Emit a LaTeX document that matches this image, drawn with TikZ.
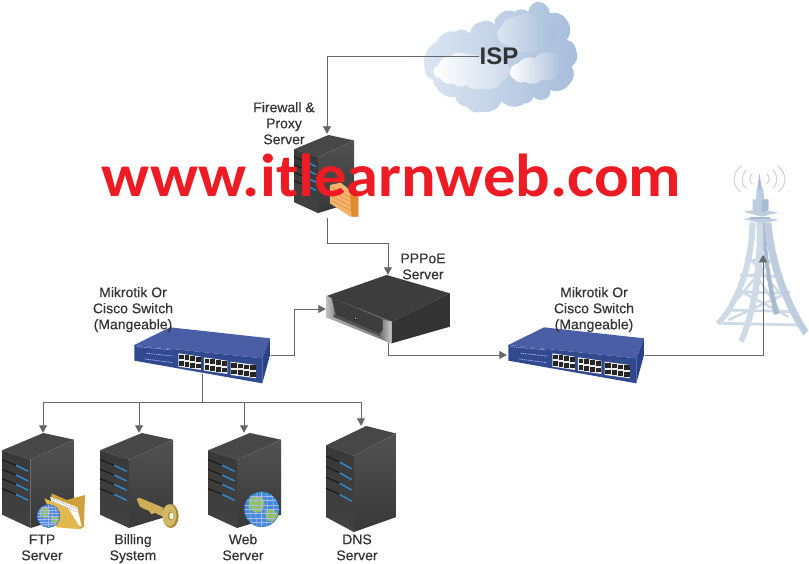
\documentclass[tikz,border=0pt]{standalone}
\usepackage{fontspec}
\setmainfont{Liberation Sans}
\newfontfamily\markfont{Carlito}
\newfontfamily\lblfont[FakeBold=0.25]{Liberation Sans}
\usetikzlibrary{arrows.meta}
\definecolor{linegray}{HTML}{666666}
\definecolor{labelgray}{HTML}{333333}
\definecolor{markred}{HTML}{ED1C24}
\tikzset{
  conn/.style={draw=linegray,line width=0.9pt},
  arr/.style={conn,-{Triangle[length=7.5pt,width=8pt]}},
  lbl/.style={text=labelgray,font=\lblfont\fontsize{14}{16}\selectfont,align=center,inner sep=0pt},
  anchorbox/.style={inner sep=0pt,minimum width=#1},
  anchorbox/.default=10pt,
}
\colorlet{HEADC}{black!72}
\colorlet{SIDEA}{black!78}
\colorlet{SIDEB}{black!74}
\colorlet{SIDEC}{black!68}
\colorlet{SIDED}{black!78}
\definecolor{BLUEL}{HTML}{2F86C8}
% server tower: x of left edge, y of peak, xscale, yscale
\newcommand{\srvbody}[4]{%
\begin{scope}[shift={(#1,#2)},xscale=#3,yscale=#4]
  \fill[HEADC] (0,52)--(124,0)--(216,20)--(86,80)--cycle;
  \shade[top color=SIDEA,bottom color=SIDEB] (0,52)--(86,80)--(86,285)--(0,245)--cycle;
  \shade[top color=SIDEC,bottom color=SIDED] (86,80)--(216,20)--(216,245)--(86,285)--cycle;
  \foreach \d in {0,29,57,87}{
    \draw[black!90,line width=1.1pt] (0,{80+\d})--(42,{97+\d});
    \draw[BLUEL,line width=1.5pt] (42,{97+\d})--(79,{115+\d});
  }
\end{scope}}
\newcommand{\globeicon}[3]{%
\begin{scope}
  \clip (#1,#2) circle[radius=#3];
  \fill[globeblue] (#1,#2) circle[radius=#3];
  \begin{scope}[shift={(#1,#2)},scale=#3]
    \fill[globegreen] (-0.7,-0.6) .. controls (-0.1,-0.95) and (0.3,-0.6) .. (0.1,-0.1) .. controls (-0.1,0.35) and (-0.45,0.25) .. (-0.75,-0.1) -- cycle;
    \fill[globegreen] (0.2,0.1) .. controls (0.6,-0.1) and (1,0.1) .. (0.9,0.5) .. controls (0.6,0.9) and (0.2,0.7) .. cycle;
    \foreach \k in {-0.75,-0.5,-0.25,0,0.25,0.5,0.75}{
      \draw[white!70!blue,line width=0.45pt] (-1,\k)--(1,\k);
      \draw[white!70!blue,line width=0.45pt] (\k,-1) .. controls ({\k*1.5},-0.3) and ({\k*1.5},0.3) .. (\k,1);
    }
  \end{scope}
\end{scope}
\draw[globeblue!70!black,line width=0.4pt] (#1,#2) circle[radius=#3];}
\newcommand{\switchicon}[1]{%
\begin{scope}[shift={(#1,230)},scale=0.3333]
  \fill[switchtop] (133,345)--(240,292)--(540,325)--(517,385)--cycle;
  \fill[switchfront] (133,345)--(517,385)--(517,460)--(133,392)--cycle;
  \fill[switchside] (517,385)--(540,325)--(540,375)--(517,460)--cycle;
  \draw[white!70!blue,line width=0.7pt,dash pattern=on 1pt off 0.8pt] (140,350)--(248,360);
  \draw[white!70!blue,line width=0.7pt,dash pattern=on 1.5pt off 0.8pt] (170,370)--(250,378);
  \draw[white!70!blue,line width=0.7pt,dash pattern=on 1.5pt off 0.8pt] (165,387)--(248,398);
  \foreach \x/\y/\w in {265/370/68,342/382/70,422/395/76}{
    \fill[black!8] (\x,\y)--({\x+\w},{\y+10})--({\x+\w},{\y+50})--(\x,{\y+40})--cycle;
    \foreach \i in {0,1,2,3}{
      \fill[black!85] ({\x+2+\i*\w/4},{\y+4+\i*2.5}) rectangle ++({\w/4-3},14);
      \fill[black!85] ({\x+2+\i*\w/4},{\y+24+\i*2.5}) rectangle ++({\w/4-3},14);
    }
  }
\end{scope}}
\definecolor{globeblue}{HTML}{3F8FD6}
\definecolor{globegreen}{HTML}{8CC65A}
\definecolor{switchtop}{HTML}{4A5EA6}
\definecolor{switchfront}{HTML}{31498F}
\definecolor{switchside}{HTML}{2A4288}
\definecolor{towera}{HTML}{BFCEDF}
\definecolor{towerb}{HTML}{CFDAE7}
\definecolor{towerc}{HTML}{A9BBD1}
\definecolor{cloudl}{HTML}{DCE6F2}
\definecolor{cloudd}{HTML}{A6BCDA}
\definecolor{goldd}{HTML}{A88A38}
\definecolor{goldm}{HTML}{CDAE58}
\definecolor{goldl}{HTML}{E6D08A}
\definecolor{fold}{HTML}{E3B94F}
\definecolor{foldd}{HTML}{CFA03C}
\definecolor{brick}{HTML}{F4B46E}
\definecolor{brickd}{HTML}{E08A30}
\begin{document}
\begin{tikzpicture}[x=1pt,y=-1pt]
\useasboundingbox (0,0) rectangle (809,564);
\fill[white] (0,0) rectangle (809,564);

% ---------- cloud
\begin{scope}[shift={(410,0)},scale=0.3333,bend left=38]
  \shade[left color=cloudl,right color=cloudd]
   (45,210) to (80,125) to (135,95) to (180,100) to (215,65) to (255,75) to (262,50) to (315,35)
   to (355,35) to (385,5) to (420,40) to (470,60) to (470,120) to (498,150) to (485,200)
   to (480,250) to (420,270) to (410,295) to (370,290) to (345,310) to (275,305) to (215,335)
   to (170,320) to (135,290) to (80,262) to (70,240) to (45,210) -- cycle;
  \shade[left color=white,right color=cloudl!70!cloudd]
   (70,215) to (85,195) to (120,170) to (175,165) to (215,180) to (270,180) to (300,205)
   to (280,240) to (215,265) to (170,255) to (130,250) to (90,235) to (70,215) -- cycle;
  \shade[shading angle=110,left color=cloudl,right color=cloudd]
   (262,105) to (275,80) to (320,50) to (385,55) to (430,85) to (430,125) to (395,145)
   to (345,155) to (290,135) to (262,105) -- cycle;
  \shade[shading angle=105,left color=white,right color=cloudd]
   (300,215) to (325,190) to (375,175) to (425,160) to (460,180) to (450,215) to (395,240)
   to (345,245) to (310,235) to (300,215) -- cycle;
\end{scope}

% ---------- server towers
\srvbody{294}{135}{0.278}{0.274}
\srvbody{2}{433}{0.3333}{0.3333}
\srvbody{100}{433}{0.338}{0.3333}
\srvbody{208}{433}{0.338}{0.3333}
\srvbody{326}{426}{0.324}{0.372}

% brick wall on firewall
\begin{scope}[shift={(250,0)},scale=0.3333]
  \fill[brick] (240,555)--(272,548)--(325,590)--(325,650)--(300,650)--(240,610)--cycle;
  \fill[brickd] (300,585)--(325,590)--(325,650)--(305,650)--cycle;
  \foreach \d in {0,13,26,39}{
    \draw[brickd,line width=0.5pt] (240,{560+\d})--(303,{593+\d});
  }
\end{scope}

% folder + small globe (FTP)
\begin{scope}[shift={(0,430)},scale=0.3333]
  \fill[foldd] (155,190)--(200,210)--(255,195)--(252,290)--(240,297)--(150,240)--cycle;
  \fill[white] (150,200)--(232,232)--(245,290)--(170,260)--cycle;
  \draw[black!40,line width=0.3pt] (155,205)--(234,238) (155,212)--(237,248);
  \fill[fold] (133,205)--(205,235)--(243,298)--(170,292)--cycle;
\end{scope}
\globeicon{48.5}{516}{11.5}

% key (billing)
\begin{scope}[shift={(0,410)},scale=0.3333]
  \fill[goldm] (410,268)--(418,263)--(490,293)--(490,320)--(475,314)--(465,308)--(455,313)--(445,301)--(435,298)--(420,290)--cycle;
  \fill[goldd] (512,318) ellipse[x radius=24,y radius=36];
  \fill[goldm!70!goldl] (508,316) ellipse[x radius=21,y radius=33];
  \fill[goldd] (512,318) ellipse[x radius=8,y radius=13];
  \fill[white] (514,318) ellipse[x radius=6,y radius=10];
\end{scope}
\globeicon{261.7}{509.3}{17.5}

% ---------- PPPoE box
\begin{scope}[shift={(90,230)},scale=0.3333]
  \fill[black!76] (710,198)--(890,135)--(1080,190)--(905,275)--cycle;
  \fill[black!80] (905,275)--(1080,190)--(1080,290)--(905,340)--cycle;
  \fill[black!60] (710,198)--(905,275)--(905,340)--(710,262)--cycle;
  \shade[left color=black!25,right color=black!45] (710,198)--(725,205)--(735,250)--(725,258)--(710,262)--cycle;
  \shade[top color=black!30,bottom color=black!55] (710,262)--(725,255)--(880,320)--(905,340)--cycle;
  \shade[left color=black!55,right color=black!20] (875,268)--(905,275)--(905,340)--(870,322)--(880,300)--cycle;
  \fill[black!76] (725,203)--(878,268)--(878,298)--(868,310)--(738,255)--cycle;
  \fill[black!68] (738,255)--(868,310)--(872,320)--(728,260)--cycle;
  \fill[black] (795,266) circle[radius=4];
  \fill[white] (796,265) circle[radius=2];
\end{scope}

% ---------- switches
\switchicon{90}
\switchicon{464}

% ---------- radio tower
\begin{scope}[shift={(700,160)},scale=0.3333]
  \draw[black!18,line width=1pt]
    (125,17) .. controls (95,40) and (95,75) .. (122,95)
    (140,30) .. controls (122,45) and (122,70) .. (138,85)
    (157,40) .. controls (147,50) and (147,65) .. (157,72)
    (200,40) .. controls (210,50) and (210,65) .. (200,72)
    (218,30) .. controls (235,45) and (235,70) .. (218,85)
    (232,17) .. controls (262,40) and (262,75) .. (235,95);
  % cross bracing
  \foreach \y/\a/\b in {300/135/225,345/120/245,395/105/262,450/80/290,490/65/300}{
    \draw[towerb,line width=2.8pt] (\a,\y)--(\b,{\y+5});
  }
  \draw[towerb,line width=2.4pt] (150,295)--(240,400) (215,295)--(110,420) (115,390)--(265,470)
     (270,395)--(85,480) (165,340)--(240,455);
  % back leg
  \fill[towerc] (183,188) .. controls (190,300) and (205,390) .. (222,465) -- (238,460) .. controls (215,380) and (202,300) .. (197,188) -- cycle;
  % left leg
  \fill[towerb] (148,188) .. controls (148,300) and (110,420) .. (48,486) -- (60,497) .. controls (122,430) and (163,320) .. (167,188) -- cycle;
  % front-left leg
  \fill[towerb] (170,188) .. controls (173,340) and (150,460) .. (116,540) -- (130,549) .. controls (167,470) and (194,340) .. (190,188) -- cycle;
  % right leg
  \fill[towera] (193,188) .. controls (203,320) and (248,430) .. (310,527) -- (325,512) .. controls (272,430) and (227,320) .. (214,188) -- cycle;
  % platforms
  \fill[towera] (130,177)--(185,170)--(237,180)--(185,190)--cycle;
  \fill[towerc] (150,170)--(210,170)--(210,178)--(150,178)--cycle;
  \fill[towera] (130,155)--(182,148)--(235,158)--(185,170)--cycle;
  % head
  \fill[towera] (158,118)--(205,118)--(205,150)--(180,157)--(158,150)--cycle;
  \fill[towerc] (185,118)--(205,118)--(205,150)--(185,157)--cycle;
  \fill[towera] (170,85)--(190,85)--(193,120)--(168,120)--cycle;
  \fill[towerc] (178,40)--(186,88)--(172,88)--cycle;
\end{scope}

% ---------- anchor nodes
\node[text=labelgray,align=center,inner sep=0pt,font=\bfseries\fontsize{24}{24}\selectfont] (isp) at (499,56) {ISP};
\node[anchorbox=60pt,minimum height=84pt] (fw) at (327,176) {};
\node[anchorbox=124pt,minimum height=68pt] (pppoe) at (388,309) {};
\node[anchorbox=138pt,minimum height=38pt] (swl) at (202,355) {};
\node[anchorbox=138pt,minimum height=38pt] (swr) at (576,355) {};
\node[anchorbox=90pt,minimum height=90pt] (tower) at (763,300) {};
\node[anchorbox=72pt,minimum height=95pt] (ftp) at (43,480.5) {};
\node[anchorbox=72pt,minimum height=95pt] (billing) at (139,480.5) {};
\node[anchorbox=72pt,minimum height=95pt] (web) at (244,480.5) {};
\node[anchorbox=70pt,minimum height=106pt] (dns) at (361,479) {};
\coordinate (bus) at (202,402);

% ---------- connectors
\draw[arr] (isp.west) -| (fw.north);
\draw[arr] (fw.south) -- ++(0,25) -| (pppoe.north);
\draw[arr] (swl.east) -- ++(23,0) |- (pppoe.west);
\draw[arr] (pppoe.south) |- (swr.west);
\draw[arr] (swr.east) -| (tower.north);
\draw[conn] (swl.south) -- (bus);
\draw[arr] (bus) -| (ftp.north);
\draw[arr] (bus) -| (billing.north);
\draw[arr] (bus) -| (web.north);
\draw[arr] (bus) -| (dns.north);

% ---------- labels
\node[lbl] (lfw) at (284,125) {Firewall \&\strut\\Proxy\strut\\Server\strut};
\node[lbl] (lpp) at (423,268) {PPPoE\strut\\Server\strut};
\node[lbl] (lsl) at (133,310) {Mikrotik Or\strut\\Cisco Switch\strut\\(Mangeable)\strut};
\node[lbl] (lsr) at (594,310) {Mikrotik Or\strut\\Cisco Switch\strut\\(Mangeable)\strut};
\node[lbl] (lftp) at (42,549) {FTP\strut\\Server\strut};
\node[lbl] (lbi) at (133,549) {Billing\strut\\System\strut};
\node[lbl] (lwe) at (243,549) {Web\strut\\Server\strut};
\node[lbl] (ldn) at (357,549) {DNS\strut\\Server\strut};

% ---------- watermark
\node[inner sep=0pt,text=markred,font=\markfont\bfseries\fontsize{64.5}{64.5}\selectfont] (mark) at (391.5,175) {\scalebox{1}[0.94]{www.itlearnweb.com}};
\end{tikzpicture}
\end{document}
